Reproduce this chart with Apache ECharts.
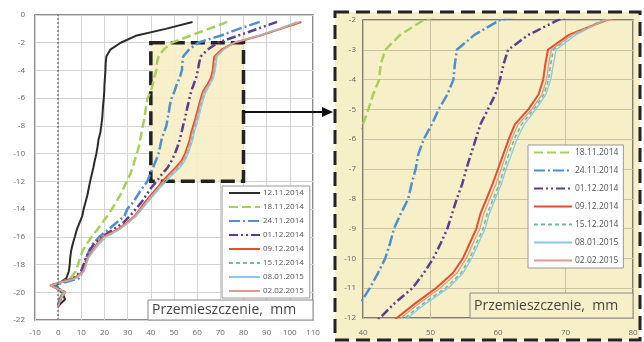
<!DOCTYPE html>
<html>
<head>
<meta charset="utf-8">
<script src="https://cdn.jsdelivr.net/npm/echarts@6/dist/echarts.min.js"></script>
<style>
html, body { margin: 0; padding: 0; background: #fff; }
#main { width: 644px; height: 342px; }
</style>
</head>
<body>
<div id="main"></div>
<script>
// glebokosc pomiaru [m], co 0.5 m
var depths = [-0.5, -1, -1.5, -2, -2.5, -3, -3.5, -4, -4.5, -5, -5.5, -6, -6.5, -7, -7.5, -8, -8.5, -9, -9.5, -10,
  -10.5, -11, -11.5, -12, -12.5, -13, -13.5, -14, -14.5, -15, -15.5, -16, -16.5, -17, -17.5, -18, -18.5, -19, -19.5, -20, -20.5, -21];

var names = ['12.11.2014', '18.11.2014', '24.11.2014', '01.12.2014', '09.12.2014', '15.12.2014', '08.01.2015', '02.02.2015'];

// przemieszczenia [mm]
var d121114 = [58, 46.4, 33.5, 27, 22.5, 20.8, 20.5, 20.4, 20.2, 20.0, 19.9, 19.7, 19.4, 19.2, 19.0, 18.6, 18.2, 17.4, 17.0, 16.5,
  15.8, 15.2, 14.5, 13.8, 13.2, 12.6, 11.8, 11.0, 10.4, 9.2, 8.0, 7.2, 6.3, 5.6, 5.2, 5.0, 4.6, 3.5, -1, 1.5, 3, 0];
var d181114 = [73, 65, 57, 49, 45.5, 43.3, 42.6, 42.4, 41.5, 40.8, 40.0, 38.6, 38.0, 37.6, 37.2, 36.5, 36.0, 35.4, 34.8, 34.0,
  33.0, 32.2, 31.0, 29.6, 28.2, 26.8, 25.0, 23.2, 21.2, 19.0, 16.8, 14.5, 12.4, 10.6, 9.5, 8.6, 7.5, 5.2, -2, 2, 1, 0];
var d241114 = [87, 78, 70, 60.3, 56.5, 53.9, 53.6, 53.4, 52.5, 51.2, 50.2, 49.0, 48.2, 47.8, 47.2, 46.7, 45.6, 44.6, 44.0, 43.3,
  42.2, 41.0, 39.6, 38.5, 36.3, 34.3, 32.4, 29.8, 28.6, 25.0, 21.5, 17.8, 15.0, 13.4, 12.2, 11.6, 10.5, 9.0, -2, 2.5, 0.5, 0];
var d011214 = [94.5, 86, 77.5, 68.9, 64.5, 61.5, 60.8, 60.3, 59.6, 58.5, 57.4, 56.7, 56.0, 55.3, 54.7, 53.9, 53.2, 52.5, 51.5, 50.4,
  49.0, 47.3, 44.7, 42.5, 40.0, 38.0, 36.0, 33.5, 31.0, 28.0, 23.5, 19.0, 15.5, 13.5, 12.0, 11.0, 9.8, 6.5, -3, 3, 1, 0];
var d091214 = [105, 96, 87, 76.1, 70.5, 67.4, 67.0, 66.7, 66.0, 64.5, 62.5, 61.6, 60.8, 60.0, 59.2, 58.3, 57.4, 56.8, 55.8, 54.8,
  53.3, 50.8, 47.8, 45.0, 42.5, 40.0, 37.5, 35.3, 33.0, 29.5, 25.4, 19.3, 16.8, 14.8, 12.8, 11.8, 10.8, 7.0, -3.5, 3, 1, 0];
var d151214 = [104, 95.5, 86.5, 75.5, 71.0, 68.2, 67.8, 67.5, 66.8, 65.3, 63.5, 62.4, 61.6, 60.9, 60.2, 59.3, 58.4, 57.8, 56.8, 55.8,
  54.5, 52.2, 49.0, 46.2, 43.5, 41.0, 38.5, 36.0, 33.5, 30.0, 26.0, 20.5, 17.5, 15.2, 13.0, 12.0, 11.0, 7.5, -3, 2.5, 1, 0];
var d080115 = [103, 95, 86, 75.8, 71.5, 68.6, 68.2, 67.8, 67.1, 65.6, 63.9, 62.8, 62.0, 61.2, 60.5, 59.6, 58.7, 58.1, 57.1, 56.1,
  54.8, 52.6, 49.4, 46.6, 43.8, 41.2, 38.7, 36.2, 33.6, 30.2, 26.2, 20.8, 17.8, 15.4, 13.2, 12.1, 11.2, 7.8, -3.2, 2.8, 1, 0];
var d020215 = [104.5, 95.8, 86.8, 76.0, 71.0, 67.9, 67.5, 67.2, 66.5, 65.0, 63.0, 62.0, 61.2, 60.5, 59.7, 58.8, 57.9, 57.3, 56.3, 55.3,
  53.9, 51.4, 48.4, 45.6, 43.0, 40.5, 38.0, 35.6, 33.2, 29.8, 25.7, 19.8, 17.0, 15.0, 12.9, 11.9, 10.9, 7.2, -3.4, 3, 1, 0];

var values = [d121114, d181114, d241114, d011214, d091214, d151214, d080115, d020215];

var xTicksLeft = [-10, 110, 10];   // min, max, krok
var yTicksLeft = [-22, 0, 2];
var xTicksRight = [40, 80, 10];
var yTicksRight = [-12, -2, 1];

// styl linii dla kazdej serii
var styles = [
  { color: '#2b2b2b', width: 2, type: 'solid' },
  { color: '#a8cf5a', width: 2.5, type: [9, 4] },
  { color: '#4f8fd0', width: 2.5, type: [11, 3, 2, 3] },
  { color: '#5e3d91', width: 2.5, type: [9, 3, 2, 3, 2, 3] },
  { color: '#e2502c', width: 2, type: 'solid' },
  { color: '#6cbf9c', width: 1.6, type: [4, 3] },
  { color: '#86c8ee', width: 1.3, type: 'solid' },
  { color: '#dd9c8e', width: 1.3, type: 'solid' }
];

function pairs(xs) {
  var out = [];
  for (var i = 0; i < xs.length; i++) out.push([xs[i], depths[i]]);
  return out;
}

var font = 'Open Sans, Liberation Sans, sans-serif';
var myChart = echarts.init(document.getElementById('main'));

var series = [];
// pomocnicza seria: zolty prostokat i linia x=0 na lewym wykresie
series.push({
  type: 'line', xAxisIndex: 0, yAxisIndex: 0, data: [], z: 1, silent: true,
  markArea: {
    silent: true,
    itemStyle: { color: 'rgba(247,238,196,0.9)', borderColor: '#222', borderWidth: 3.5, borderType: [14, 6] },
    data: [[{ coord: [40, -2] }, { coord: [80, -12] }]]
  },
  markLine: {
    silent: true, symbol: 'none', label: { show: false },
    lineStyle: { color: '#777', type: [2, 2], width: 1.5 },
    data: [{ xAxis: 0 }]
  }
});
for (var i = 0; i < names.length; i++) {
  series.push({
    name: names[i], type: 'line', xAxisIndex: 0, yAxisIndex: 0, z: 3,
    symbol: 'none', smooth: false, lineStyle: styles[i], itemStyle: { color: styles[i].color },
    data: pairs(values[i])
  });
  if (i > 0) {
    series.push({
      name: names[i], type: 'line', xAxisIndex: 1, yAxisIndex: 1, z: 3,
      symbol: 'none', smooth: false, lineStyle: styles[i], itemStyle: { color: styles[i].color },
      data: pairs(values[i])
    });
  }
}

function valAxis(gi, t, extra) {
  var a = {
    type: 'value', gridIndex: gi, min: t[0], max: t[1], interval: t[2],
    axisLine: { show: false }, axisTick: { show: false },
    axisLabel: { color: '#666', fontSize: 8, fontFamily: font },
    splitLine: { show: true, lineStyle: { color: gi == 0 ? '#d4d4d4' : '#c9c3a4', width: 1 } }
  };
  for (var k in extra) a[k] = extra[k];
  return a;
}

myChart.setOption({
  animation: false,
  backgroundColor: '#fff',
  grid: [
    { left: 35, top: 15, width: 278, height: 305, show: true, backgroundColor: '#fff', borderColor: '#666', borderWidth: 1.5 },
    { left: 363, top: 20, width: 270, height: 298, show: true, borderColor: '#555', borderWidth: 1.5 }
  ],
  xAxis: [
    valAxis(0, xTicksLeft, { axisLabel: { color: '#666', fontSize: 8, fontFamily: font, margin: 9 } }),
    valAxis(1, xTicksRight, { axisLabel: { color: '#666', fontSize: 8, fontFamily: font, margin: 11 } })
  ],
  yAxis: [
    valAxis(0, yTicksLeft, { axisLabel: { color: '#666', fontSize: 8, fontFamily: font, margin: 10 } }),
    valAxis(1, yTicksRight, { axisLabel: { color: '#666', fontSize: 8, fontFamily: font, margin: 7 } })
  ],
  legend: [
    {
      data: names, orient: 'vertical', left: 222, top: 186, itemWidth: 31, itemHeight: 8, itemGap: 6,
      padding: [3, 6, 3, 6], backgroundColor: '#fff', borderColor: '#999', borderWidth: 1,
      itemStyle: { opacity: 0 },
      textStyle: { fontSize: 8, color: '#555', fontFamily: font, padding: [0, 0, 0, -2] }, inactiveColor: '#ccc'
    },
    {
      data: names.slice(1), orient: 'vertical', left: 528, top: 145, itemWidth: 38, itemHeight: 10, itemGap: 9,
      padding: [3, 5, 3, 5], backgroundColor: '#fff', borderColor: '#999', borderWidth: 1,
      itemStyle: { opacity: 0 },
      textStyle: { fontSize: 8.5, color: '#555', fontFamily: font, padding: [0, 0, 0, -2] }, inactiveColor: '#ccc'
    }
  ],
  series: series
});

// strzalka od prostokata do powiekszenia
var p = myChart.convertToPixel({ gridIndex: 0 }, [80, -7]);
myChart.setOption({
  graphic: [
    { type: 'rect', z: -10, shape: { x: 335, y: 12, width: 305, height: 328 },
      style: { fill: '#f7efc8', stroke: '#222', lineWidth: 3, lineDash: [14, 7] } },
    { type: 'line', z: 10, shape: { x1: p[0], y1: p[1], x2: 324, y2: p[1] }, style: { stroke: '#111', lineWidth: 2 } },
    { type: 'polygon', z: 10, shape: { points: [[322, p[1] - 5], [333, p[1]], [322, p[1] + 5]] }, style: { fill: '#111' } },
    { type: 'rect', z: 10, shape: { x: 148, y: 300, width: 165, height: 20 }, style: { fill: '#fff', stroke: '#888', lineWidth: 1 } },
    { type: 'text', z: 11, x: 152, y: 310, style: { text: 'Przemieszczenie,  mm', fill: '#444', font: '14px ' + font, textVerticalAlign: 'middle' } },
    { type: 'rect', z: 10, shape: { x: 470, y: 293, width: 163, height: 25 }, style: { fill: '#f7efc8', stroke: '#888', lineWidth: 1 } },
    { type: 'text', z: 11, x: 474, y: 306, style: { text: 'Przemieszczenie,  mm', fill: '#444', font: '14px ' + font, textVerticalAlign: 'middle' } }
  ]
});
</script>
</body>
</html>
